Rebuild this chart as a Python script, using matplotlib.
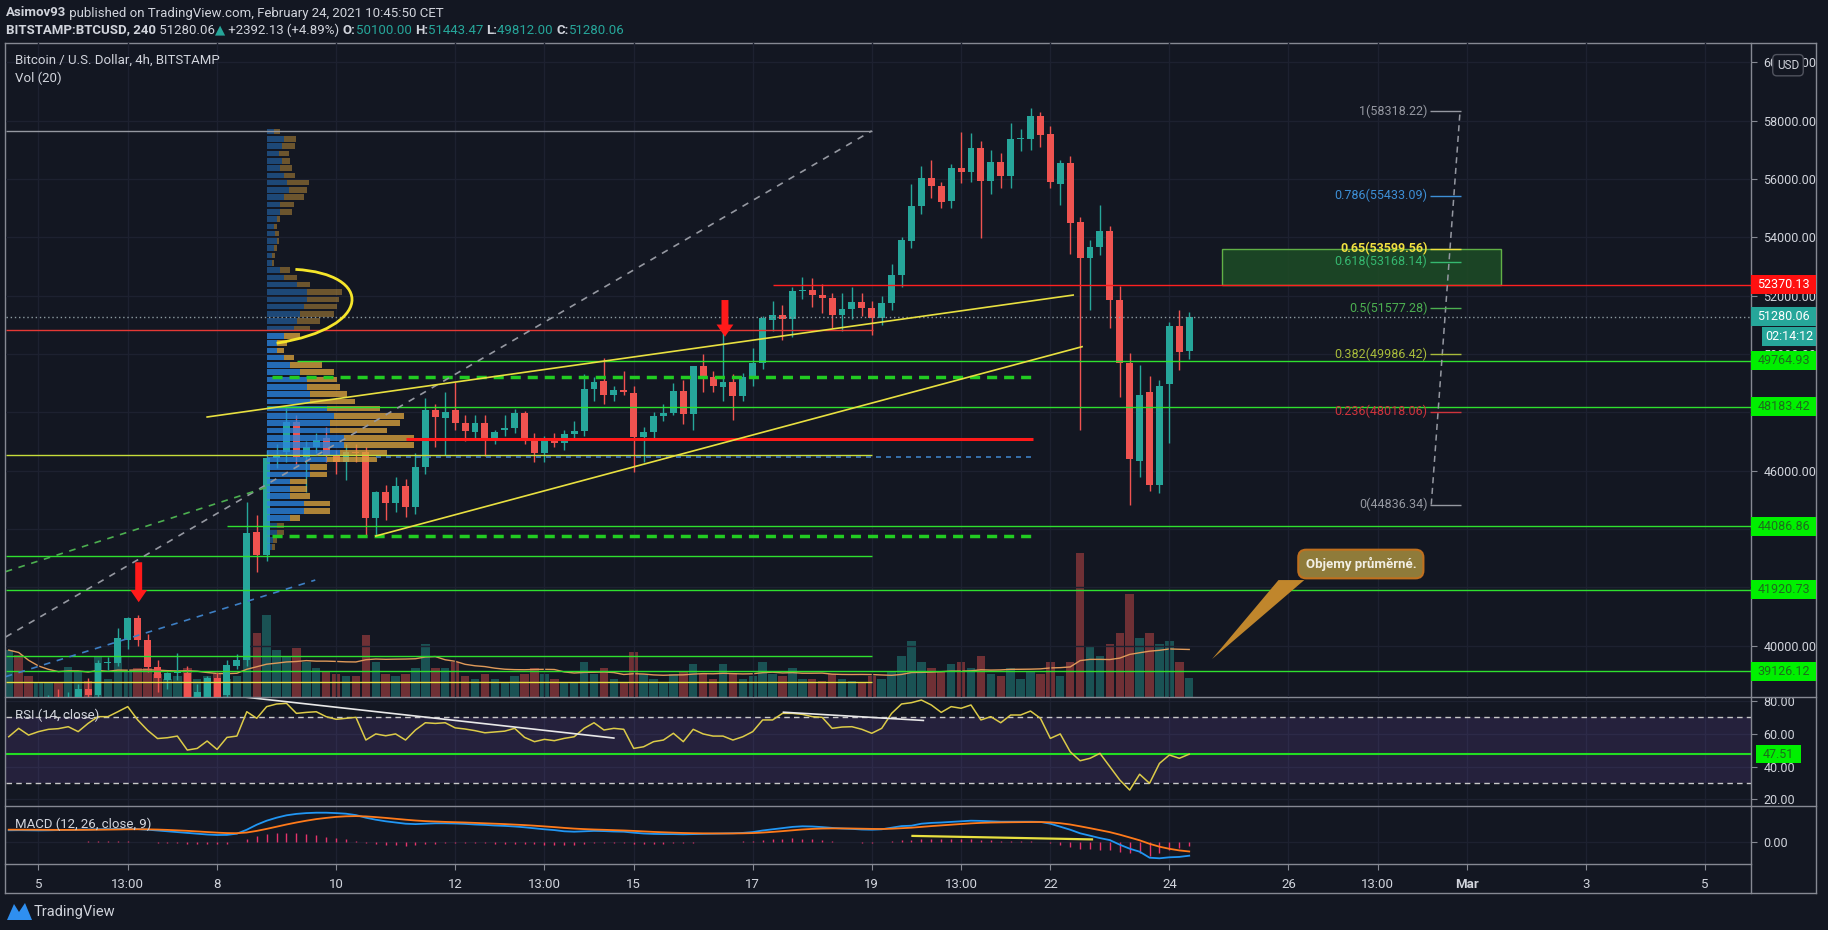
import numpy as np
import pandas as pd
import matplotlib
matplotlib.use("Agg")
import matplotlib.pyplot as plt
import matplotlib.transforms as mtransforms
from matplotlib.patches import Rectangle, Polygon, PathPatch, FancyArrow
from matplotlib.path import Path
from matplotlib.lines import Line2D

plt.rcParams['font.family'] = ['Liberation Sans Narrow', 'Roboto', 'DejaVu Sans']

W, H = 1828, 930
BG = '#131722'
TXT = '#d1d4dc'
UP = '#26a69a'
DOWN = '#ef5350'
LIME = '#2fe02f'
FRAME = '#868993'
GRID = '#1d2130'

# 4h bars, x = bar number counted from Feb 4 00:00 UTC
first_bar = 3
opens = [37400, 37700, 37500, 37200, 37600, 38100, 37800, 38200, 38500, 38310,
         39400, 39420, 40200, 40940, 40200, 39280, 38820, 39050, 39070, 38250,
         38250, 38900, 38310, 39300, 39510, 43910, 43110, 46420, 46650, 47680,
         46480, 46820, 47110, 46540, 46310, 46650, 46650, 44370, 45280, 44880,
         45470, 44770, 46140, 48080, 47800, 48080, 47620, 47340, 47620, 47110,
         47400, 47450, 47970, 47110, 46600, 47110, 46940, 47260, 47370, 48790,
         49080, 48590, 48750, 48650, 47170, 47340, 47870, 47990, 48730, 47940,
         49590, 49220, 48880, 49030, 48570, 49220, 49680, 51150, 51350, 51200,
         52160, 52200, 52020, 51930, 51340, 51540, 51790, 51570, 51220, 51760,
         52710, 53880, 55070, 56040, 55770, 55240, 56390, 56230, 57070, 55930,
         56590, 56110, 57370, 57370, 58170, 57530, 55820, 56540, 54530, 53300,
         53680, 54230, 51850, 49700, 46330, 48710, 45510, 48970, 50970, 50100]
highs = [37900, 38200, 37900, 37800, 38300, 38500, 38400, 38700, 38900, 39500,
         39620, 40600, 41000, 41050, 40400, 39500, 39100, 39750, 39300, 38700,
         38950, 39100, 39500, 39700, 44940, 44480, 46700, 46900, 48140, 47900,
         47000, 47300, 47500, 46700, 46900, 46900, 46800, 45300, 45500, 45800,
         45700, 46600, 48500, 48300, 48700, 49050, 47900, 47900, 47900, 47400,
         47900, 48100, 48050, 47300, 47200, 47300, 47400, 47700, 49300, 49200,
         49850, 48900, 49400, 48900, 47500, 48000, 48300, 49000, 49100, 49600,
         50000, 49400, 50820, 49300, 49350, 50200, 51300, 51800, 51680, 52300,
         52650, 52600, 52400, 52100, 52100, 52300, 52100, 51800, 52000, 53100,
         54000, 55820, 56450, 56650, 55900, 56500, 57600, 57570, 57300, 56980,
         56900, 57910, 57700, 58420, 58300, 57800, 56650, 56800, 54700, 53910,
         55110, 54400, 52330, 50020, 49620, 49250, 49100, 51100, 51510, 51443.47]
lows = [36900, 37300, 37000, 36800, 37400, 37700, 37600, 37900, 38100, 38100,
        39170, 39300, 39900, 40000, 39100, 38420, 38500, 38820, 38000, 37900,
        38000, 38000, 38100, 39200, 39300, 42540, 42900, 46100, 46300, 46200,
        45280, 46600, 46300, 45900, 45680, 46300, 43800, 43800, 44300, 44600,
        44400, 44500, 45900, 46800, 46540, 47400, 47000, 47100, 46500, 46900,
        47200, 47300, 46900, 46300, 46300, 46800, 46700, 47100, 47200, 48400,
        48300, 48400, 48600, 45950, 46300, 47100, 47700, 47900, 47600, 47400,
        48700, 48700, 48400, 47740, 48400, 48900, 49500, 50800, 50480, 50590,
        51900, 51600, 51400, 50900, 50800, 51200, 51300, 50650, 51000, 51500,
        52300, 53640, 54800, 55350, 55000, 55000, 55850, 55900, 53990, 55500,
        55700, 55700, 56950, 57000, 57100, 55700, 55110, 53420, 47390, 51510,
        53400, 50880, 48540, 44820, 45790, 45300, 45220, 46940, 49450, 49812]
closes = [37700, 37500, 37200, 37600, 38100, 37800, 38200, 38500, 38300, 39400,
          39420, 40250, 40940, 40200, 39280, 38880, 39070, 39100, 38250, 38400,
          38880, 38250, 39340, 39510, 43850, 43110, 46420, 46550, 47680, 46480,
          46820, 47050, 46540, 46310, 46650, 46600, 44370, 45280, 44880, 45470,
          44770, 46140, 48080, 47850, 48020, 47620, 47370, 47620, 47110, 47340,
          47450, 47970, 47110, 46600, 47110, 46940, 47260, 47370, 48790, 49050,
          48590, 48770, 48700, 47170, 47340, 47870, 47990, 48730, 47940, 49590,
          49220, 48900, 49030, 48560, 49220, 49680, 51220, 51350, 51200, 52160,
          52200, 52020, 51930, 51340, 51540, 51790, 51570, 51220, 51760, 52710,
          53910, 55070, 56040, 55770, 55220, 56390, 56230, 57070, 55930, 56590,
          56110, 57370, 57420, 58170, 57500, 55900, 56540, 54480, 53300, 53680,
          54230, 51850, 49680, 46390, 48590, 45510, 48900, 50970, 50080, 51280.06]
volumes = [4000, 3600, 1800, 1200, 1200, 1200, 2600, 2200, 1400, 3400,
           1500, 3400, 2200, 2500, 2500, 2000, 1500, 1800, 2500, 1500,
           1800, 2000, 1500, 1800, 8000, 5500, 7000, 4000, 3400, 4200,
           3000, 2500, 2200, 2000, 1800, 1800, 5300, 3000, 2000, 1800,
           2000, 2500, 4500, 2500, 2500, 3000, 1800, 1500, 2000, 1500,
           1200, 1800, 2000, 2500, 2000, 1500, 1200, 1200, 3000, 2000,
           2500, 1500, 1200, 3800, 2000, 1500, 1200, 2000, 2200, 2800,
           2000, 1500, 2800, 2000, 1500, 1800, 3000, 2000, 1800, 2500,
           1500, 1500, 1400, 2000, 1500, 1400, 1300, 1800, 1500, 2200,
           3500, 4800, 3000, 2500, 2200, 2800, 3000, 2500, 3500, 2000,
           1800, 2500, 1500, 2200, 2000, 3000, 1800, 3000, 12300, 4300,
           3500, 4500, 5500, 8800, 5000, 5500, 4500, 4800, 3000, 1600]
rsi = [58.1, 63.2, 59.1, 61.2, 62.6, 63.0, 64.2, 61.2, 66.2, 70.3,
       70.3, 73.3, 76.4, 68.3, 62.0, 57.0, 57.5, 58.5, 50.0, 51.0,
       55.5, 50.4, 57.7, 58.5, 73.3, 69.3, 76.4, 78.0, 78.4, 72.3,
       72.9, 73.3, 70.3, 68.7, 69.3, 69.9, 56.1, 59.8, 58.7, 59.8,
       56.1, 62.2, 66.6, 66.2, 66.6, 63.5, 62.8, 61.8, 60.5, 61.0,
       61.5, 63.2, 57.7, 55.1, 56.5, 55.7, 57.1, 58.1, 63.2, 66.6,
       62.2, 63.2, 62.6, 51.0, 52.0, 55.1, 56.1, 60.2, 55.1, 62.6,
       59.8, 58.5, 58.5, 56.1, 58.1, 61.2, 68.3, 68.3, 72.3, 72.3,
       71.7, 70.3, 69.9, 63.2, 64.0, 64.2, 62.6, 60.2, 63.2, 72.3,
       78.0, 78.8, 80.4, 77.4, 72.9, 76.4, 75.4, 77.4, 68.3, 70.3,
       66.6, 71.3, 71.3, 73.7, 69.3, 57.1, 59.8, 49.0, 43.5, 45.0,
       48.0, 39.9, 31.8, 25.7, 35.3, 29.8, 41.9, 47.0, 45.0, 47.51]
macd = [570, 575, 570, 565, 570, 580, 590, 600, 610, 620,
        630, 640, 650, 630, 600, 560, 520, 480, 440, 400,
        360, 335, 340, 400, 600, 850, 1050, 1200, 1320, 1390,
        1430, 1450, 1450, 1430, 1400, 1330, 1200, 1100, 1020, 960,
        900, 880, 900, 920, 920, 910, 890, 860, 840, 810,
        790, 760, 720, 670, 620, 580, 520, 500, 520, 540,
        530, 510, 500, 450, 410, 390, 380, 380, 370, 380,
        390, 400, 410, 420, 440, 480, 560, 620, 680, 740,
        770, 760, 730, 690, 660, 640, 610, 600, 620, 700,
        780, 800, 900, 940, 960, 990, 1020, 1050, 1040, 1020,
        1000, 1000, 1000, 1000, 990, 900, 750, 600, 420, 300,
        180, 80, -150, -350, -500, -800, -830, -780, -760, -700]
signal = [600, 600, 598, 595, 592, 590, 590, 592, 595, 600,
          605, 612, 620, 622, 618, 607, 590, 568, 543, 514,
          483, 453, 431, 425, 460, 540, 640, 750, 860, 960,
          1050, 1130, 1190, 1240, 1270, 1280, 1265, 1230, 1190, 1145,
          1100, 1060, 1030, 1010, 990, 975, 960, 940, 920, 900,
          880, 855, 830, 800, 765, 730, 690, 655, 630, 610,
          595, 578, 562, 540, 515, 490, 470, 452, 436, 425,
          418, 414, 413, 414, 419, 431, 457, 490, 528, 570,
          610, 640, 658, 665, 664, 660, 650, 640, 636, 649,
          675, 700, 740, 780, 815, 850, 884, 917, 941, 957,
          966, 973, 978, 982, 984, 967, 924, 860, 770, 676,
          577, 478, 352, 212, 70, -104, -249, -355, -436, -489]

# fixed range volume profile rows (bottom price of each 250 USD row)
vp_price = list(range(43250, 57501, 250))
vp_up = [5, 6, 10, 10, 23, 37, 37, 23, 23, 23, 43, 43, 60, 73, 77, 77, 63, 63, 67, 60,
         43, 43, 40, 40, 33, 23, 17, 10, 10, 17, 27, 30, 33, 37, 40, 40, 30, 17, 13, 5,
         5, 7, 10, 8, 7, 10, 13, 13, 17, 22, 20, 17, 13, 15, 12, 15, 17, 7]
vp_down = [3, 4, 7, 7, 10, 26, 26, 20, 17, 17, 17, 17, 50, 47, 70, 70, 57, 70, 70, 53,
           45, 37, 33, 30, 34, 32, 10, 7, 10, 16, 16, 23, 34, 33, 32, 35, 13, 13, 10, 2,
           3, 3, 2, 4, 3, 3, 12, 14, 20, 18, 22, 11, 12, 8, 10, 13, 12, 6]
vp_left = 29.0
value_area = (44250, 50750)

# date axis
date_ticks = [6, 15, 24, 36, 48, 57, 66, 78, 90, 99, 108, 120, 132, 141, 150, 162, 174]
date_labels = ['5', '13:00', '8', '10', '12', '13:00', '15', '17', '19', '13:00',
               '22', '24', '26', '13:00', 'Mar', '3', '5']
price_ticks = list(range(40000, 60001, 2000))
hidden_ticks = [42000, 44000, 48000]   # covered by level tags on the price scale

# drawn levels
key_levels = [49764.93, 48183.42, 44086.86, 41920.73, 39126.12]
key_starts = [32.1, 29.0, 25.0, 2.7, 2.7]
red_level = 52370.13
fib_ratio = [1, 0.786, 0.65, 0.618, 0.5, 0.382, 0.236, 0]
fib_price = [58318.22, 55433.09, 53599.56, 53168.14, 51577.28, 49986.42, 48018.06, 44836.34]
fib_color = ['#9598a1', '#3d8fd6', '#f0e040', '#35b870', '#4caf50', '#a8bb3a', '#d0343c', '#9598a1']
rsi_level = 47.51

XL, XR = 2.725, 178.63

fig = plt.figure(figsize=(W / 100, H / 100), dpi=100, facecolor=BG)


def rect(x0, y0, x1, y1):
    return [x0 / W, 1 - y1 / H, (x1 - x0) / W, (y1 - y0) / H]


ax_vol = fig.add_axes(rect(6, 43, 1751, 697))
ax = fig.add_axes(rect(6, 43, 1751, 697))
ax_rsi = fig.add_axes(rect(6, 697, 1751, 806))
ax_macd = fig.add_axes(rect(6, 806, 1751, 864))
ax.set_zorder(2)
ax_vol.set_zorder(1)
ax.set_facecolor('none')
for a in (ax_vol, ax_rsi, ax_macd):
    a.set_facecolor(BG)
for a in (ax_vol, ax, ax_rsi, ax_macd):
    a.set_xlim(XL, XR)
    for s in a.spines.values():
        s.set_visible(False)
    a.set_xticks(date_ticks)
    a.tick_params(axis='x', length=0, labelbottom=False)
    a.grid(color=GRID, lw=1)
    a.set_axisbelow(True)

x = np.arange(first_bar, first_bar + len(closes))
o = np.array(opens, float)
hi = np.array(highs, float)
lo = np.array(lows, float)
c = np.array(closes, float)
up = c >= o
cols = np.where(up, UP, DOWN)

# volume
ax_vol.set_ylim(0, 55800)
ax_vol.set_yticks([])
ax_vol.grid(False)
ax_vol.bar(x, volumes, width=0.85, color=cols, alpha=0.42, lw=0)
vol_ma = pd.Series(volumes).rolling(20, min_periods=1).mean()
ax_vol.plot(x, vol_ma, color='#e09a5a', lw=1)

# price panel
ax.set_ylim(38241, 60661)
ax.yaxis.tick_right()
ax.set_yticks(price_ticks)
ax.set_yticklabels(['' if v in hidden_ticks else f'{v:.2f}' for v in price_ticks])
ax.tick_params(axis='y', colors=FRAME, labelcolor=TXT, labelsize=9, length=4, pad=5)

ax.vlines(x, lo, hi, colors=cols, lw=1, zorder=3)
ax.bar(x, np.maximum(np.abs(c - o), 40), bottom=np.minimum(o, c), width=0.7,
       color=cols, lw=0, zorder=3.5)

# volume profile
vp_price_a = np.array(vp_price, float) + 125
vp_up_w = np.array(vp_up) / 9.92
vp_dn_w = np.array(vp_down) / 9.92
inside = (vp_price_a >= value_area[0]) & (vp_price_a <= value_area[1])
for i in range(len(vp_price)):
    al = 0.78 if inside[i] else 0.45
    ax.barh(vp_price_a[i], vp_up_w[i], left=vp_left, height=190, color='#2a84df', alpha=al, lw=0, zorder=4)
    ax.barh(vp_price_a[i], vp_dn_w[i], left=vp_left + vp_up_w[i], height=190, color='#d9a23e', alpha=al, lw=0, zorder=4)

# horizontal drawings
for lv, st in zip(key_levels, key_starts):
    ax.hlines(lv, st, XR, color=LIME, lw=1, zorder=5)
ax.hlines(57650, 2.7, 90, color='#9598a1', lw=1, zorder=5)
ax.hlines(50820, 2.7, 90.1, color='#e53935', lw=1, zorder=5)
ax.hlines(red_level, 80, XR, color='#ff2020', lw=1, zorder=5)
ax.hlines(47086, 43, 106.3, color='#ff1a1a', lw=2.2, zorder=5)
ax.hlines(46535, 2.7, 90, color='#c6dd3a', lw=1, zorder=5)
ax.hlines(46480, 40, 106, color='#3d7fc4', lw=1.2, linestyles=(0, (3, 3)), zorder=5)
ax.hlines(43080, 2.7, 90, color=LIME, lw=1, zorder=5)
ax.hlines(39650, 2.7, 90, color=LIME, lw=1, zorder=5)
ax.hlines(38750, 2.7, 90, color='#e8e040', lw=1, zorder=5)
for lv in (49220, 43750):
    ax.hlines(lv, 29.5, 106.3, color='#22cc22', lw=2.5, linestyles=(0, (2.9, 2.0)), zorder=5)
ax.axhline(c[-1], color='#8c9aa0', lw=1, ls=(0, (1, 2)), zorder=5)

# trend lines
ax.plot([2.7, 90], [40300, 57650], color='#9598a1', lw=1.2, ls=(0, (4, 4)), zorder=5)
ax.plot([2.7, 29], [42540, 45430], color='#4caf50', lw=1.2, ls=(0, (4, 4)), zorder=5)
ax.plot([2.7, 33.9], [38940, 42250], color='#3d7fc4', lw=1.2, ls=(0, (4, 4)), zorder=5)
ax.plot([23, 110.3], [47840, 52020], color='#e8e040', lw=1.2, zorder=5)
ax.plot([40, 111.2], [43760, 50250], color='#e8e040', lw=1.2, zorder=5)
arc = Path([(31.9, 52900), (39.8, 52750), (39.8, 50900), (30.0, 50370)],
           [Path.MOVETO, Path.CURVE4, Path.CURVE4, Path.CURVE4])
ax.add_patch(PathPatch(arc, fc='none', ec='#f5e52a', lw=2, zorder=6))

# red arrows
for ax_x, tail, tip in ((16.1, 42860, 41490), (75.2, 51850, 50590)):
    ax.add_patch(FancyArrow(ax_x, tail, 0, tip - tail, width=0.7, head_width=1.7,
                            head_length=420, length_includes_head=True,
                            color='#ff1a1a', lw=0, zorder=7))

# fib zone + retracement
ax.add_patch(Rectangle((125.3, red_level), 153.4 - 125.3, 53600 - red_level,
                       fc='#1d4a26', ec='#6abf4b', lw=1, alpha=0.9, zorder=4))
ax.plot([146.4, 149.3], [fib_price[-1], fib_price[0]], color='#9598a1', lw=1.1,
        ls=(0, (4, 3)), zorder=6)
for r, p, col in zip(fib_ratio, fib_price, fib_color):
    ax.hlines(p, 146.3, 149.4, color=col, lw=1, zorder=6)
    ax.text(146.0, p, f'{r}({p:.2f})', color=col, fontsize=9, ha='right', va='center',
            fontweight='bold' if r == 0.65 else 'normal', zorder=6)

# callout
ax.add_patch(Polygon([(131.0, 42250), (133.6, 42250), (124.3, 39540)], closed=True,
                     fc='#c0862c', ec='none', zorder=7))
ax.text(139.3, 42800, 'Objemy průměrné.', color='#f2efe4', fontsize=9.5, fontweight='bold',
        ha='center', va='center', zorder=8,
        bbox=dict(boxstyle='round,pad=0.55,rounding_size=0.6', fc='#8f7b3a', ec='#c0701e', lw=1.5))

# price axis tags
tr_main = mtransforms.blended_transform_factory(ax.transAxes, ax.transData)


def tag(axis, trans, y, text, fc, tc, h, x0=1.0, x1=1.03725):
    axis.add_patch(Rectangle((x0, y - h / 2), x1 - x0, h, transform=trans, fc=fc, ec='none',
                             clip_on=False, zorder=10))
    axis.text((x0 + x1) / 2, y, text, transform=trans, ha='center', va='center', color=tc,
              fontsize=9, clip_on=False, zorder=11)


for lv in key_levels:
    tag(ax, tr_main, lv, f'{lv:.2f}', '#00f000', '#1e6b1e', 650)
tag(ax, tr_main, red_level, f'{red_level:.2f}', '#ff1010', 'white', 650)
tag(ax, tr_main, c[-1], f'{c[-1]:.2f}', UP, 'white', 650)
tag(ax, tr_main, c[-1] - 680, '02:14:12', UP, 'white', 620, x0=1.0063)
ax.text(1.0212, 59900, 'USD', transform=tr_main, ha='center', va='center', color=TXT,
        fontsize=8.5, zorder=12, clip_on=False,
        bbox=dict(boxstyle='round,pad=0.35', fc=BG, ec='#50535e', lw=1))

# RSI
ax_rsi.set_ylim(16.0, 82.25)
ax_rsi.yaxis.tick_right()
ax_rsi.set_yticks([20, 40, 60, 80])
ax_rsi.set_yticklabels(['20.00', '40.00', '60.00', '80.00'])
ax_rsi.tick_params(axis='y', colors=FRAME, labelcolor=TXT, labelsize=9, length=4, pad=5)
ax_rsi.axhspan(30, 70, color='#7e57c2', alpha=0.17, lw=0)
for lv in (70, 30):
    ax_rsi.axhline(lv, color='#c8c8c8', lw=1, ls=(0, (4, 3)))
ax_rsi.axhline(rsi_level, color='#22dd22', lw=1.5)
ax_rsi.plot(x, rsi, color='#dccb48', lw=1.1)
ax_rsi.plot([26.8, 64.0], [82.2, 57.3], color='#e8e8e8', lw=1.2)
ax_rsi.plot([81.1, 95.2], [73.0, 68.0], color='#e8e8e8', lw=1.2)
tr_rsi = mtransforms.blended_transform_factory(ax_rsi.transAxes, ax_rsi.transData)
tag(ax_rsi, tr_rsi, rsi_level, f'{rsi_level:.2f}', '#00f000', '#1e6b1e', 11.0, x0=1.0029, x1=1.0287)

# MACD
ax_macd.set_ylim(-1115, 1785)
ax_macd.yaxis.tick_right()
ax_macd.set_yticks([0])
ax_macd.set_yticklabels(['0.00'])
ax_macd.tick_params(axis='y', colors=FRAME, labelcolor=TXT, labelsize=9, length=4, pad=5)
hist = np.array(macd) - np.array(signal)
ax_macd.vlines(x, 0, hist, colors='#e5336b', lw=1)
ax_macd.plot(x, macd, color='#2196f3', lw=1.3)
ax_macd.plot(x, signal, color='#ff7a1a', lw=1.3)
ax_macd.plot([94.1, 112.2], [290, 115], color='#e8e040', lw=1.6)
ax_macd.tick_params(axis='x', length=4, colors=FRAME, labelbottom=True, labelcolor=TXT,
                    labelsize=9.5, pad=6)
ax_macd.set_xticklabels(date_labels)
for t in ax_macd.get_xticklabels():
    if t.get_text() == 'Mar':
        t.set_fontweight('bold')

# panel texts
def ftext(xp, yp, s, **kw):
    return fig.text(xp / W, 1 - yp / H, s, va='center', ha='left', **kw)


ftext(15, 60, 'Bitcoin / U.S. Dollar, 4h, BITSTAMP', color=TXT, fontsize=9.5)
ftext(15, 78, 'Vol (20)', color=TXT, fontsize=9.5)
ftext(15, 715, 'RSI (14, close)', color=TXT, fontsize=9.5)
ftext(15, 824, 'MACD (12, 26, close, 9)', color=TXT, fontsize=9.5)

renderer = fig.canvas.get_renderer()


def chain(xp, yp, parts, size=9.5):
    for s, col, wt in parts:
        t = ftext(xp, yp, s, color=col, fontsize=size, fontweight=wt)
        xp += t.get_window_extent(renderer).width


chain(6, 13, [('Asimov93', TXT, 'bold'), (' published on TradingView.com, February 24, 2021 10:45:50 CET', TXT, 'normal')])
chain(6, 30, [('BITSTAMP:BTCUSD, 240', TXT, 'bold'), (' 51280.06', TXT, 'normal'),
              ('\u25b2', UP, 'normal'), (' +2392.13 (+4.89%) ', TXT, 'normal'),
              ('O:', TXT, 'bold'), ('50100.00 ', UP, 'normal'),
              ('H:', TXT, 'bold'), ('51443.47 ', UP, 'normal'),
              ('L:', TXT, 'bold'), ('49812.00 ', UP, 'normal'),
              ('C:', TXT, 'bold'), ('51280.06', UP, 'normal')])

# frame
def fline(x0, y0, x1, y1, col=FRAME):
    fig.add_artist(Line2D([x0 / W, x1 / W], [1 - y0 / H, 1 - y1 / H], color=col, lw=1))


fline(5, 43, 1816, 43)
fline(5, 893, 1816, 893)
fline(5, 43, 5, 893)
fline(1816, 43, 1816, 893)
fline(1751, 43, 1751, 893)
fline(5, 697, 1816, 697)
fline(5, 806, 1816, 806)
fline(5, 864, 1751, 864)

# TradingView logo
fig.add_artist(Polygon([(7 / W, 1 - 920 / H), (14 / W, 1 - 904 / H), (19 / W, 1 - 912 / H),
                        (25 / W, 1 - 903 / H), (32 / W, 1 - 920 / H)], closed=True,
                       fc='#2f8ff0', ec='none', transform=fig.transFigure))
ftext(34, 912, 'TradingView', color=TXT, fontsize=10.5)

fig.savefig('out.png', dpi=100, facecolor=BG)
